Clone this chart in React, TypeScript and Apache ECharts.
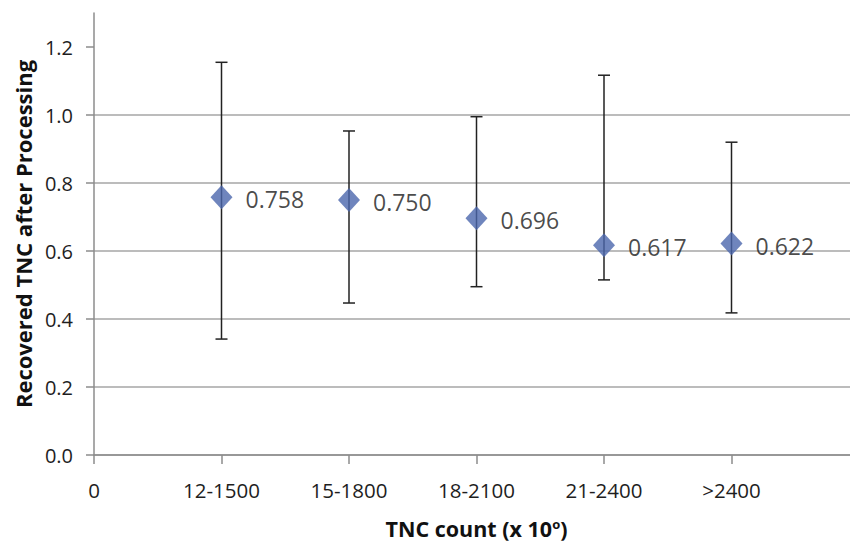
import React, { useEffect, useRef } from "react";
import * as echarts from "echarts";

const categories = ["12-1500", "15-1800", "18-2100", "21-2400", ">2400"];
const means = [0.758, 0.75, 0.696, 0.617, 0.622];
const upper = [1.155, 0.953, 0.995, 1.117, 0.92];
const lower = [0.341, 0.447, 0.495, 0.515, 0.418];
const yTicks = [0, 0.2, 0.4, 0.6, 0.8, 1.0, 1.2];

const FONT = "'Open Sans', 'Noto Sans', sans-serif";

export default function App() {
  const ref = useRef<HTMLDivElement>(null);
  useEffect(() => {
    if (!ref.current) return;
    const chart = echarts.init(ref.current, null, { renderer: "svg" });
    const points = means.map((m, i) => [i + 1, m]);
    const bars = means.map((_, i) => [i + 1, lower[i], upper[i]]);
    chart.setOption({
      animation: false,
      backgroundColor: "#fff",
      grid: { left: 94, top: 13, bottom: 91, right: -9, containLabel: false, outerBoundsMode: "none" },
      xAxis: {
        type: "value",
        min: 0,
        max: 6,
        interval: 1,
        name: "TNC count (x 10{sup|o})",
        nameLocation: "middle",
        nameGap: 62,
        nameTextStyle: {
          fontFamily: FONT,
          fontWeight: "bold",
          fontSize: 21.5,
          color: "#111",
          rich: {
            sup: { fontSize: 13, fontWeight: "bold", fontFamily: FONT, color: "#111", verticalAlign: "top", padding: [0, 0, 6, 0] },
          },
        },
        axisLine: { lineStyle: { color: "#8c8c8c", width: 1.5 } },
        axisTick: { show: true, length: 9, lineStyle: { color: "#8c8c8c", width: 1.5 } },
        splitLine: { show: false },
        axisLabel: {
          margin: 24,
          fontFamily: FONT,
          fontSize: 20.5,
          color: "#1e1e1e",
          formatter: (v: number) => (v === 0 ? "0" : categories[v - 1] ?? ""),
        },
      },
      yAxis: {
        type: "value",
        min: 0,
        max: 1.3,
        interval: 0.2,
        name: "Recovered TNC after Processing",
        nameLocation: "middle",
        nameGap: 60,
        nameRotate: 90,
        nameTextStyle: { fontFamily: FONT, fontWeight: "bold", fontSize: 22, color: "#111" },
        axisLine: { show: true, lineStyle: { color: "#8c8c8c", width: 1.5 } },
        axisTick: { show: true, length: 8, customValues: yTicks, lineStyle: { color: "#8c8c8c", width: 1.5 } },
        splitLine: { show: true, showMaxLine: false, lineStyle: { color: "#a6a6a6", width: 1.5 } },
        axisLabel: {
          margin: 21,
          fontFamily: FONT,
          fontSize: 20,
          color: "#1e1e1e",
          customValues: yTicks,
          formatter: (v: number) => v.toFixed(1),
        },
      },
      series: [
        {
          type: "custom",
          data: bars,
          z: 2,
          renderItem: (_params: any, api: any) => {
            const x = api.value(0);
            const lo = api.coord([x, api.value(1)]);
            const hi = api.coord([x, api.value(2)]);
            const w = 6;
            const style = { stroke: "#222", lineWidth: 1.5 };
            return {
              type: "group",
              children: [
                { type: "line", shape: { x1: lo[0], y1: lo[1], x2: hi[0], y2: hi[1] }, style },
                { type: "line", shape: { x1: lo[0] - w, y1: lo[1], x2: lo[0] + w, y2: lo[1] }, style },
                { type: "line", shape: { x1: hi[0] - w, y1: hi[1], x2: hi[0] + w, y2: hi[1] }, style },
              ],
            };
          },
        },
        {
          type: "scatter",
          data: points,
          z: 3,
          symbol: "diamond",
          symbolSize: [22, 24],
          itemStyle: { color: "#4b67ad" },
          label: {
            show: true,
            position: "right",
            distance: 13,
            offset: [0, 2],
            fontFamily: FONT,
            fontSize: 23,
            color: "#1a1a1a",
            formatter: (p: any) => p.value[1].toFixed(3),
          },
        },
      ],
    });
    return () => chart.dispose();
  }, []);
  return <div ref={ref} style={{ width: 850, height: 546, position: "absolute", left: 0, top: 0 }} />;
}
